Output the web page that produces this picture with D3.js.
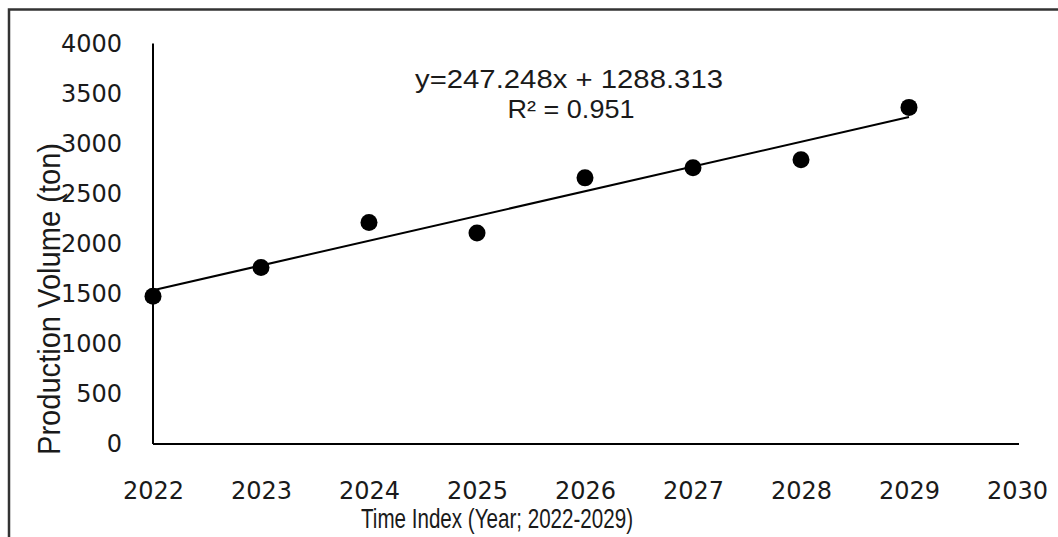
<!DOCTYPE html>
<html>
<head>
<meta charset="utf-8">
<script src="https://cdn.jsdelivr.net/npm/d3@7"></script>
<style>
  html, body { margin: 0; padding: 0; background: #fff; }
  svg { display: block; }
</style>
</head>
<body>
<script>
// ---- data ----
const years = [2022, 2023, 2024, 2025, 2026, 2027, 2028, 2029];
const production = [1475, 1762, 2213, 2107, 2658, 2758, 2838, 3362];
const trendSlope = 247.248;
const trendIntercept = 1288.313;
const rSquared = 0.951;
const xTicks = [2022, 2023, 2024, 2025, 2026, 2027, 2028, 2029, 2030];
const yTicks = [0, 500, 1000, 1500, 2000, 2500, 3000, 3500, 4000];
const xTitle = "Time Index (Year; 2022-2029)";
const yTitle = "Production Volume (ton)";

const W = 1058, H = 537;
const svg = d3.select("body").append("svg").attr("width", W).attr("height", H);
svg.append("rect").attr("width", W).attr("height", H).attr("fill", "#fff");

// outer frame (extends beyond right/bottom edge as in reference)
svg.append("rect").attr("x", 9).attr("y", 9.5).attr("width", 1100).attr("height", 600)
  .attr("fill", "none").attr("stroke", "#333").attr("stroke-width", 2.5);

const x = d3.scaleLinear().domain([2022, 2030]).range([153, 1017]);
const y = d3.scaleLinear().domain([0, 4000]).range([444, 43.5]);

const tickFont = "'DejaVu Sans', Verdana, sans-serif";
const titleFont = "'Liberation Sans', Arial, sans-serif";

// x axis
const gx = svg.append("g").attr("transform", `translate(0,${y(0)})`)
  .call(d3.axisBottom(x).tickValues(xTicks).tickFormat(d3.format("d")).tickSize(0).tickPadding(38));
gx.select(".domain").attr("stroke", "#000").attr("stroke-width", 2)
  .attr("d", `M${x(2022)},0H${x(2030) + 2}`);
gx.selectAll("text").attr("font-family", tickFont).attr("font-size", 24).attr("fill", "#1a1a1a");

// y axis
const gy = svg.append("g").attr("transform", `translate(${x(2022)},0)`)
  .call(d3.axisLeft(y).tickValues(yTicks).tickFormat(d3.format("d")).tickSize(0).tickPadding(31));
gy.select(".domain").attr("stroke", "#000").attr("stroke-width", 2)
  .attr("d", `M0,${y(4000)}V${y(0)}`);
gy.selectAll("text").attr("font-family", tickFont).attr("font-size", 24).attr("fill", "#1a1a1a");

// trend line: x index 1..8 maps to years
const trendPts = [years[0], years[years.length - 1]].map(yr => {
  const idx = yr - years[0] + 1;
  return [yr, trendSlope * idx + trendIntercept];
});
svg.append("path")
  .attr("d", d3.line().x(d => x(d[0])).y(d => y(d[1]))(trendPts))
  .attr("fill", "none").attr("stroke", "#000").attr("stroke-width", 2);

// points
svg.append("g").selectAll("circle").data(years.map((yr, i) => [yr, production[i]]))
  .join("circle")
  .attr("cx", d => x(d[0])).attr("cy", d => y(d[1])).attr("r", 8.5)
  .attr("fill", "#000");

// equation annotation
svg.append("text").attr("x", 569).attr("y", 88).attr("text-anchor", "middle")
  .attr("font-family", titleFont).attr("font-size", 25).attr("fill", "#1a1a1a")
  .attr("textLength", 308).attr("lengthAdjust", "spacingAndGlyphs")
  .text(`y=${trendSlope.toFixed(3)}x + ${trendIntercept.toFixed(3)}`);
svg.append("text").attr("x", 571).attr("y", 118).attr("text-anchor", "middle")
  .attr("font-family", titleFont).attr("font-size", 25).attr("fill", "#1a1a1a")
  .attr("textLength", 127).attr("lengthAdjust", "spacingAndGlyphs")
  .text(`R² = ${rSquared.toFixed(3)}`);

// axis titles
svg.append("text").attr("x", 497).attr("y", 528).attr("text-anchor", "middle")
  .attr("font-family", titleFont).attr("font-size", 28).attr("fill", "#1a1a1a")
  .attr("textLength", 272).attr("lengthAdjust", "spacingAndGlyphs")
  .text(xTitle);
svg.append("text").attr("transform", "translate(60,299) rotate(-90)").attr("text-anchor", "middle")
  .attr("font-family", titleFont).attr("font-size", 32).attr("fill", "#1a1a1a")
  .attr("textLength", 312).attr("lengthAdjust", "spacingAndGlyphs")
  .text(yTitle);
</script>
</body>
</html>
